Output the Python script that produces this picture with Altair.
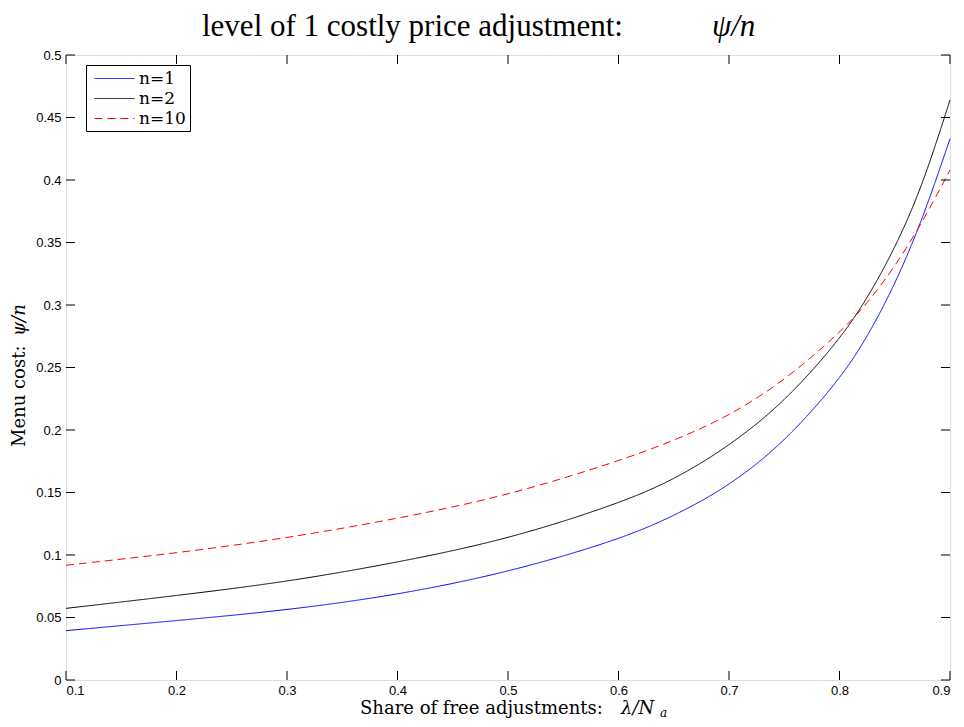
import altair as alt
import pandas as pd

# ---- data ----
x_vals = [0.1, 0.2, 0.3, 0.4, 0.5, 0.6, 0.65, 0.7, 0.75, 0.8, 0.825, 0.85, 0.875, 0.9]
n1_vals = [0.0395, 0.0475, 0.0558, 0.068, 0.086, 0.112, 0.131, 0.155, 0.190, 0.240, 0.274, 0.316, 0.368, 0.433]
n2_vals = [0.0573, 0.0675, 0.0785, 0.094, 0.1125, 0.141, 0.160, 0.187, 0.222, 0.272, 0.305, 0.345, 0.395, 0.464]
n10_vals = [0.0918, 0.1015, 0.1135, 0.129, 0.1475, 0.175, 0.1914, 0.211, 0.2393, 0.2775, 0.301, 0.3305, 0.366, 0.408]
series_names = ["n=1", "n=2", "n=10"]
series_colors = ["#0000ff", "#000000", "#ff0000"]
series_dash = [[1, 0], [1, 0], [8, 5]]
x_ticks = [0.1, 0.2, 0.3, 0.4, 0.5, 0.6, 0.7, 0.8, 0.9]
y_ticks = [0, 0.05, 0.1, 0.15, 0.2, 0.25, 0.3, 0.35, 0.4, 0.45, 0.5]

W, H = 884, 625
TICK = 9

rows = []
for name, vals in zip(series_names, [n1_vals, n2_vals, n10_vals]):
    for xv, yv in zip(x_vals, vals):
        rows.append({"x": xv, "y": yv, "series": name})
df = pd.DataFrame(rows)

xscale = alt.Scale(domain=[0.1, 0.9], nice=False, zero=False)
yscale = alt.Scale(domain=[0, 0.5], nice=False)

lines = alt.Chart(df).mark_line(strokeWidth=1, interpolate="basis").encode(
    x=alt.X("x:Q", scale=xscale,
            axis=alt.Axis(values=x_ticks, format="~g", title=None, grid=False,
                          ticks=False, domain=False, labelPadding=4,
                          labelFont="Liberation Sans", labelFontSize=13,
                          labelColor="#000")),
    y=alt.Y("y:Q", scale=yscale,
            axis=alt.Axis(values=y_ticks, format="~g", title=None, grid=False,
                          ticks=False, domain=False, labelPadding=5,
                          labelFont="Liberation Sans", labelFontSize=13,
                          labelColor="#000")),
    color=alt.Color("series:N",
                    scale=alt.Scale(domain=series_names, range=series_colors),
                    legend=alt.Legend(title=None, orient="none", legendX=20, legendY=10,
                                      fillColor="white", strokeColor="black",
                                      padding=4, symbolType="M-0.56,0H3.9", symbolSize=324,
                                      symbolStrokeWidth=1, labelFont="DejaVu Serif",
                                      labelFontSize=17, labelColor="#000",
                                      labelOffset=30, rowPadding=2)),
    strokeDash=alt.StrokeDash("series:N",
                              scale=alt.Scale(domain=series_names, range=series_dash),
                              legend=None),
)

xt = pd.DataFrame({"v": x_ticks})
yt = pd.DataFrame({"v": y_ticks})
rule_base_x = alt.Chart(xt).mark_rule(color="black", strokeWidth=1)
rule_base_y = alt.Chart(yt).mark_rule(color="black", strokeWidth=1)
ticks_bottom = rule_base_x.encode(x=alt.X("v:Q", scale=xscale), y=alt.value(H), y2=alt.value(H - TICK))
ticks_top = rule_base_x.encode(x=alt.X("v:Q", scale=xscale), y=alt.value(0), y2=alt.value(TICK))
ticks_left = rule_base_y.encode(y=alt.Y("v:Q", scale=yscale), x=alt.value(0), x2=alt.value(TICK))
ticks_right = rule_base_y.encode(y=alt.Y("v:Q", scale=yscale), x=alt.value(W), x2=alt.value(W - TICK))

def label(text, x, y, size, italic=False, angle=0, font="Liberation Serif", align="left"):
    kw = dict(text=text, font=font, fontSize=size, color="black", align=align,
              baseline="alphabetic")
    if italic:
        kw["fontStyle"] = "italic"
    if angle:
        kw["angle"] = angle
    return alt.Chart(pd.DataFrame({"t": [text]})).mark_text(**kw).encode(
        x=alt.value(x), y=alt.value(y))

title_main = label("level of 1 costly price adjustment:", 136, -19, 31)
title_math = label("ψ/n", 646, -19, 31, italic=True)
xlab_main = label("Share of free adjustments:", 294, 659, 18, font="DejaVu Serif")
xlab_math = label("λ/N", 555, 659, 18, italic=True, font="DejaVu Serif")
xlab_sub = label("a", 594, 662, 12, italic=True, font="DejaVu Serif")
ylab_main = label("Menu cost:", -41, 392, 18, angle=270, font="DejaVu Serif")
ylab_math = label("ψ/n", -41, 281, 18, italic=True, angle=270, font="DejaVu Serif")

chart = alt.layer(
    lines, ticks_bottom, ticks_top, ticks_left, ticks_right,
    title_main, title_math, xlab_main, xlab_math, xlab_sub, ylab_main, ylab_math,
).properties(
    width=W, height=H,
    autosize=alt.AutoSizeParams(type="none"),
    padding={"left": 58, "top": 47, "right": 6, "bottom": 39},
).configure_view(
    stroke="black", strokeWidth=1.2
).configure(background="white")

chart.save("out.html", embed_options={"renderer": "svg", "actions": False})
